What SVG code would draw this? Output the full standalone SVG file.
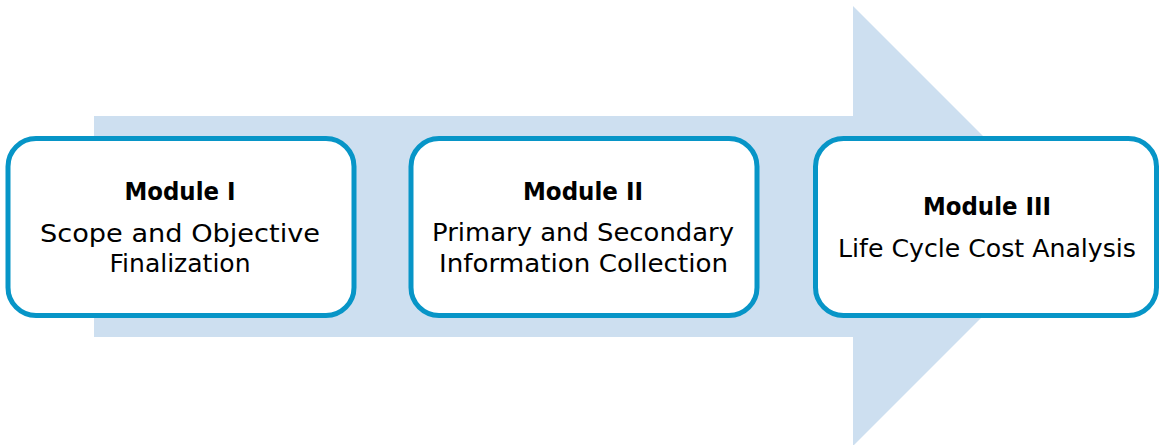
<svg xmlns="http://www.w3.org/2000/svg" width="1159" height="445" viewBox="0 0 1159 445">
  <style>
    .box { fill: #ffffff; stroke: #0795c7; stroke-width: 5; }
    .title { font-family: "DejaVu Sans", "Liberation Sans", sans-serif; font-weight: bold; font-size: 25px; fill: #000000; text-anchor: middle; }
    .body { font-family: "DejaVu Sans", "Liberation Sans", sans-serif; font-size: 25px; fill: #000000; text-anchor: middle; }
  </style>
  <rect x="0" y="0" width="1159" height="445" fill="#ffffff"/>
  <!-- Process flow backdrop arrow -->
  <g id="connectors">
    <polygon points="94,116 853,116 853,6 1073,226 853,446 853,337 94,337" fill="#cddff0"/>
  </g>
  <g id="module1">
    <rect class="box" x="8" y="138.5" width="346" height="177" rx="28" ry="28"/>
    <text class="title" x="180" y="200" textLength="111" lengthAdjust="spacingAndGlyphs">Module I</text>
    <text class="body" x="180" y="242" textLength="280" lengthAdjust="spacingAndGlyphs">Scope and Objective</text>
    <text class="body" x="180" y="272" textLength="141" lengthAdjust="spacingAndGlyphs">Finalization</text>
  </g>
  <g id="module2">
    <rect class="box" x="411" y="138.5" width="346" height="177" rx="28" ry="28"/>
    <text class="title" x="583" y="200" textLength="120" lengthAdjust="spacingAndGlyphs">Module II</text>
    <text class="body" x="583" y="241" textLength="302" lengthAdjust="spacingAndGlyphs">Primary and Secondary</text>
    <text class="body" x="583.5" y="272" textLength="289" lengthAdjust="spacingAndGlyphs">Information Collection</text>
  </g>
  <g id="module3">
    <rect class="box" x="815.5" y="138.5" width="341" height="177" rx="28" ry="28"/>
    <text class="title" x="987" y="215" textLength="128" lengthAdjust="spacingAndGlyphs">Module III</text>
    <text class="body" x="987" y="257" textLength="298" lengthAdjust="spacingAndGlyphs">Life Cycle Cost Analysis</text>
  </g>
</svg>
